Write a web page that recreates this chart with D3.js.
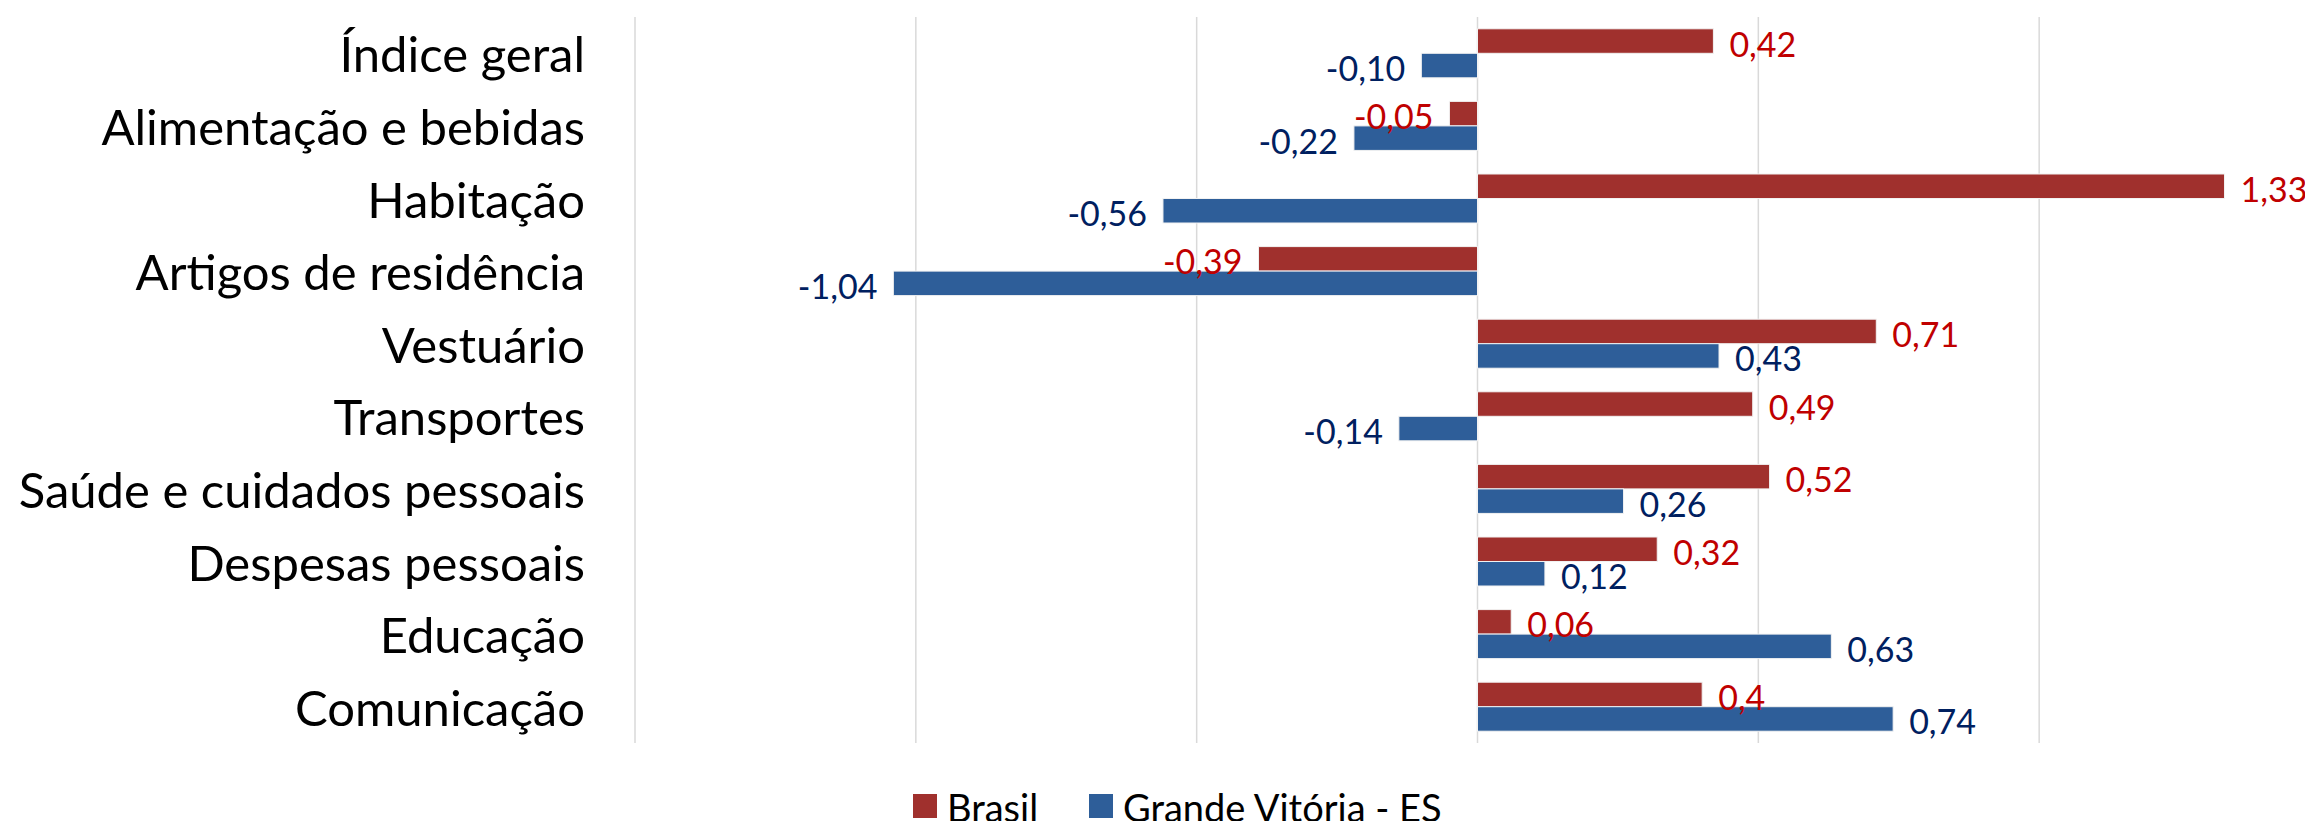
<!DOCTYPE html>
<html>
<head>
    <meta charset="utf-8" />
    <title>IPCA - Brasil x Grande Vitória</title>
    <script src="https://d3js.org/d3.v7.min.js"></script>
    <style>
    html, body {
        margin: 0;
        padding: 0;
        background-color: white;
    }
    svg {
        display: block;
    }
    .grid line {
        stroke: #d9d9d9;
        stroke-width: 1.5;
    }
    .cat-label {
        font-family: Lato, sans-serif;
        font-size: 49px;
        fill: #000;
    }
    .val-label {
        font-family: Lato, sans-serif;
        font-size: 34px;
    }
    .legend text {
        font-family: Lato, sans-serif;
        font-size: 38px;
        fill: #000;
    }
    .bar {
        stroke: #f2f2f2;
        stroke-width: 1;
    }
    </style>
</head>
<body>
    <script>
const categories = ['Índice geral', 'Alimentação e bebidas', 'Habitação', 'Artigos de residência', 'Vestuário',
    'Transportes', 'Saúde e cuidados pessoais', 'Despesas pessoais', 'Educação', 'Comunicação'];
const seriesNames = ['Brasil', 'Grande Vitória - ES'];
const brasil = [0.42, -0.05, 1.33, -0.39, 0.71, 0.49, 0.52, 0.32, 0.06, 0.4];
const grandeVitoria = [-0.10, -0.22, -0.56, -1.04, 0.43, -0.14, 0.26, 0.12, 0.63, 0.74];
// rótulos como aparecem no gráfico original
const brasilLabels = ['0,42', '-0,05', '1,33', '-0,39', '0,71', '0,49', '0,52', '0,32', '0,06', '0,4'];
const gvLabels = ['-0,10', '-0,22', '-0,56', '-1,04', '0,43', '-0,14', '0,26', '0,12', '0,63', '0,74'];
const xTicks = [-1.5, -1, -0.5, 0, 0.5, 1, 1.5];

const w = 2305;
const h = 821;
const colors = ['#a0302d', '#2e5e99'];
const labelColors = ['#c00000', '#002060'];

const svg = d3.select('body').append('svg').attr('width', w).attr('height', h);

const xScale = d3.scaleLinear()
    .domain([-1.5, 1.5])
    .range([635, 2320]);

const yScale = d3.scaleBand()
    .domain(categories)
    .range([17, 743])
    .paddingInner(0.325)
    .paddingOuter(0.1625);

const ySub = d3.scaleBand()
    .domain(seriesNames)
    .range([0, yScale.bandwidth()]);

// linhas de grade
svg.append('g').attr('class', 'grid')
    .selectAll('line')
    .data(xTicks).enter()
    .append('line')
    .attr('x1', (d) => xScale(d)).attr('x2', (d) => xScale(d))
    .attr('y1', 17).attr('y2', 743);

// rótulos das categorias
svg.append('g')
    .selectAll('text')
    .data(categories).enter()
    .append('text')
    .attr('class', 'cat-label')
    .attr('x', 585)
    .attr('y', (d) => yScale(d) + yScale.bandwidth() / 2)
    .attr('text-anchor', 'end')
    .attr('dominant-baseline', 'central')
    .text((d) => d);

const rows = [];
categories.forEach((c, i) => {
    rows.push({cat: c, s: 0, v: brasil[i], label: brasilLabels[i]});
    rows.push({cat: c, s: 1, v: grandeVitoria[i], label: gvLabels[i]});
});

svg.append('g')
    .selectAll('rect')
    .data(rows).enter()
    .append('rect')
    .attr('class', 'bar')
    .attr('x', (d) => xScale(Math.min(0, d.v)))
    .attr('y', (d) => yScale(d.cat) + ySub(seriesNames[d.s]))
    .attr('width', (d) => Math.abs(xScale(d.v) - xScale(0)))
    .attr('height', ySub.bandwidth())
    .attr('fill', (d) => colors[d.s]);

svg.append('g')
    .selectAll('text')
    .data(rows).enter()
    .append('text')
    .attr('class', 'val-label')
    .attr('x', (d) => xScale(d.v) + (d.v < 0 ? -16 : 16))
    .attr('y', (d) => yScale(d.cat) + ySub(seriesNames[d.s]) + ySub.bandwidth() / 2 + 2)
    .attr('text-anchor', (d) => d.v < 0 ? 'end' : 'start')
    .attr('dominant-baseline', 'central')
    .attr('fill', (d) => labelColors[d.s])
    .text((d) => d.label);

// legenda
const legend = svg.append('g').attr('class', 'legend');
const legendX = [913, 1089];
seriesNames.forEach((name, i) => {
    legend.append('rect')
        .attr('x', legendX[i]).attr('y', 794)
        .attr('width', 24).attr('height', 24)
        .attr('fill', colors[i]);
    legend.append('text')
        .attr('x', legendX[i] + 34).attr('y', 807)
        .attr('dominant-baseline', 'central')
        .text(name);
});
    </script>
</body>
</html>
